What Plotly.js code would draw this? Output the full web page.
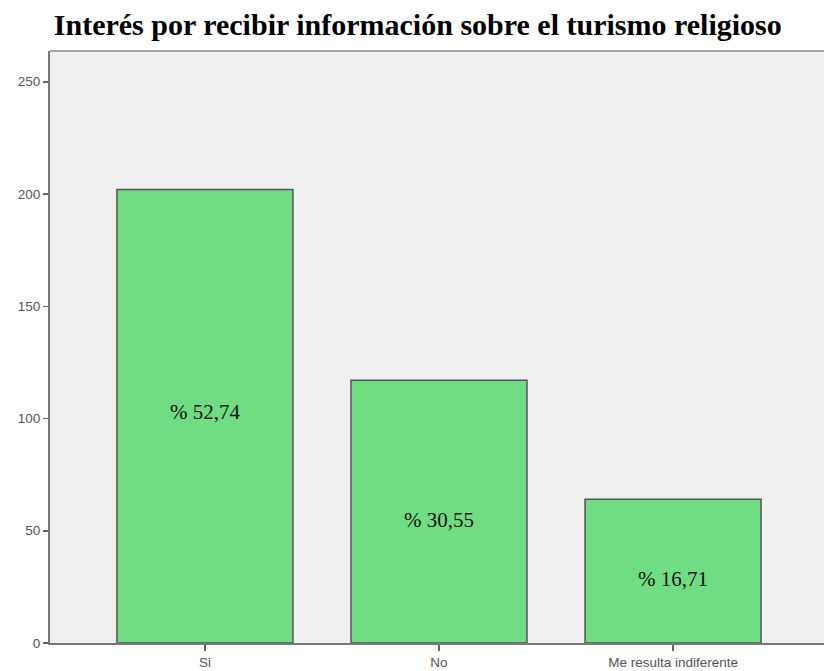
<!DOCTYPE html>
<html>
<head>
<meta charset="utf-8">
<script src="https://cdn.plot.ly/plotly-3.0.1.min.js"></script>
<style>html,body{margin:0;padding:0;background:#fff;}#chart{width:824px;height:671px;}</style>
</head>
<body>
<div id="chart"></div>
<script>
const categories = ["Si", "No", "Me resulta indiferente"];
const counts = [202, 117, 64];
const percentLabels = ["% 52,74", "% 30,55", "% 16,71"];
const labelY = [103, 55, 28.5];
const yTicks = [0, 50, 100, 150, 200, 250];

const trace = {
  type: "bar",
  x: [0, 1, 2],
  y: counts,
  width: 0.752,
  marker: {color: "#70dc84", line: {color: "#555555", width: 1.5}},
  hoverinfo: "none"
};

const annotations = categories.map((c, i) => ({
  x: i, y: labelY[i], xref: "x", yref: "y",
  text: percentLabels[i], showarrow: false,
  font: {family: "Liberation Serif, Times New Roman, serif", size: 21, color: "#111"}
}));

const tickFont = {family: "Liberation Sans, Arial, sans-serif", size: 13.5, color: "#555"};

const layout = {
  width: 824, height: 671,
  margin: {l: 50, r: 0, t: 51, b: 28, pad: 0},
  paper_bgcolor: "#ffffff",
  plot_bgcolor: "#f0f0f0",
  showlegend: false,
  title: {
    text: "<b>Interés por recibir información sobre el turismo religioso</b>",
    font: {family: "Liberation Serif, Times New Roman, serif", size: 30, color: "#000"},
    x: 0.507, xanchor: "center", y: 0.964, yanchor: "middle"
  },
  xaxis: {
    range: [-0.662, 2.645],
    tickmode: "array", tickvals: [0, 1, 2], ticktext: categories,
    ticks: "outside", ticklen: 6, tickwidth: 1.5, tickcolor: "#666",
    showline: true, linecolor: "#777", linewidth: 1.5,
    showgrid: false, zeroline: false,
    tickfont: tickFont,
    fixedrange: true
  },
  yaxis: {
    range: [0, 263.7],
    tickmode: "array", tickvals: yTicks, ticktext: yTicks.map(String),
    ticks: "outside", ticklen: 5, tickwidth: 1.5, tickcolor: "#666",
    showline: true, linecolor: "#777", linewidth: 2,
    showgrid: false, zeroline: false,
    tickfont: tickFont,
    fixedrange: true
  },
  shapes: [{
    type: "line", xref: "paper", yref: "paper", x0: 0, x1: 1, y0: 1, y1: 1,
    line: {color: "#888", width: 1.5}
  }],
  annotations: annotations,
  bargap: 0
};

Plotly.newPlot("chart", [trace], layout, {displayModeBar: false, staticPlot: true});
</script>
</body>
</html>
